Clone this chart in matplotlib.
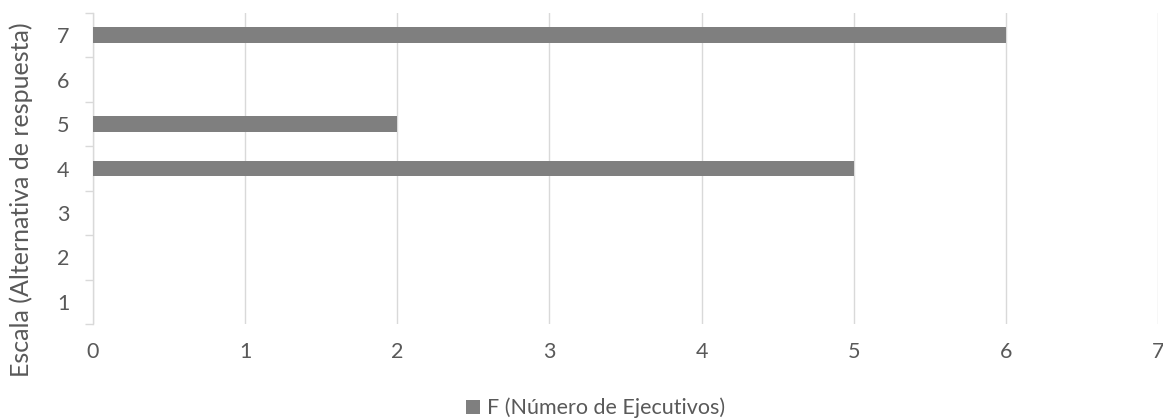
import numpy as np
import matplotlib
matplotlib.use('Agg')
import matplotlib.pyplot as plt
from matplotlib.patches import Patch

# Response scale (1-7) and how many executives chose each option
escala = [1, 2, 3, 4, 5, 6, 7]
ejecutivos = [0, 0, 0, 5, 2, 0, 6]
x_ticks = [0, 1, 2, 3, 4, 5, 6, 7]

plt.rcParams['font.family'] = ['Lato', 'DejaVu Sans']
text_color = '#595959'
grid_color = '#d9d9d9'
bar_color = '#7f7f7f'

fig = plt.figure(figsize=(11.63, 4.19), dpi=100)
ax = fig.add_axes([0.08, 0.2267, 0.9157, 0.7423])

ax.barh(escala, ejecutivos, height=0.36, color=bar_color, zorder=3)

ax.set_xlim(0, 7)
ax.set_ylim(0.5, 7.5)
ax.set_xticks(x_ticks)
ax.set_yticks(escala)
ax.set_yticks(np.arange(0.5, 8, 1), minor=True)

ax.grid(axis='x', color=grid_color, lw=1, zorder=0)
for side in ('top', 'right', 'bottom'):
    ax.spines[side].set_visible(False)
ax.spines['left'].set_color(grid_color)
ax.spines['left'].set_linewidth(1)

ax.tick_params(axis='x', length=0, pad=13, labelsize=15.5, labelcolor=text_color)
ax.tick_params(axis='y', which='major', length=0, pad=17, labelsize=15.5, labelcolor=text_color)
ax.tick_params(axis='y', which='minor', length=6, width=1, color=grid_color)

fig.text(0.018, 0.523, 'Escala (Alternativa de respuesta)', rotation=90,
         ha='center', va='center', fontsize=18, color=text_color)

handle = Patch(facecolor=bar_color, edgecolor='none')
fig.legend([handle], ['F (Número de Ejecutivos)'], loc='center',
           bbox_to_anchor=(0.512, 0.026), frameon=False, fontsize=15.5,
           labelcolor=text_color, handlelength=0.65, handleheight=0.65,
           handletextpad=0.3, borderpad=0)

fig.savefig('out.png', dpi=100)
plt.close(fig)
